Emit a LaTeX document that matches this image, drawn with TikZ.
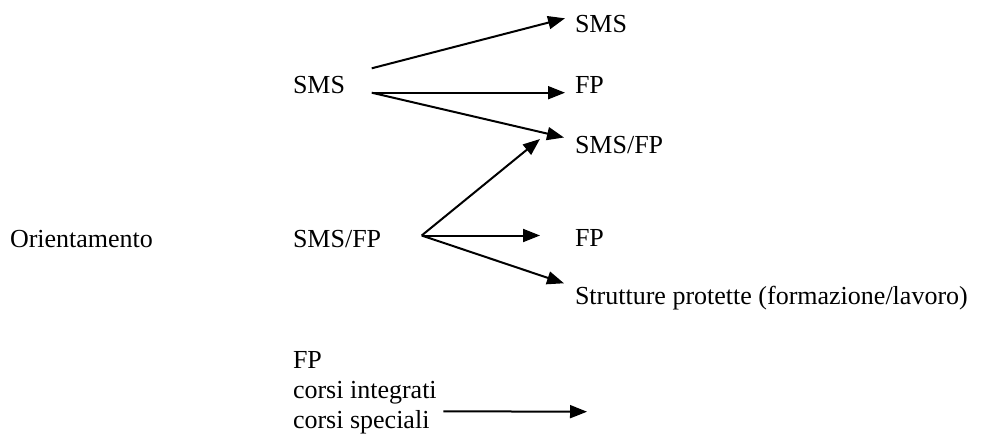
\documentclass[tikz,border=0pt]{standalone}
\usepackage{fontspec}
\setmainfont{Liberation Serif}
\usetikzlibrary{arrows.meta}
\begin{document}
\begin{tikzpicture}[x=1pt,y=-1pt,
  lbl/.style={anchor=base west,inner sep=0pt,outer sep=0pt,
              font=\fontsize{26}{30}\selectfont},
  arr/.style={line width=2pt,-{Triangle[length=17pt,width=13pt]}}]
\useasboundingbox (0,0) rectangle (981,437);

% left column
\node[lbl] (orient) at (10,247) {Orientamento};

% middle column
\node[lbl] (smsL)   at (293,93)  {SMS};
\node[lbl] (smsfpM) at (293,247) {SMS/FP};
\node[lbl] (fpB)    at (293,368) {FP};
\node[lbl] (ci)     at (293,398) {corsi integrati};
\node[lbl] (cs)     at (293,428) {corsi speciali};

% right column
\node[lbl] (smsR)   at (575,32)  {SMS};
\node[lbl] (fpR1)   at (575,93)  {FP};
\node[lbl] (smsfpR) at (575,153) {SMS/FP};
\node[lbl] (fpR2)   at (575,246) {FP};
\node[lbl] (strut)  at (575,304) {Strutture protette (formazione/lavoro)};

\coordinate (ciEnd) at (587,411.7);

% branches from SMS
\draw[arr] ([shift={(26.7,-24.7)}]smsL.base east) -- ([shift={(-10,-13.7)}]smsR.base west);
\draw[arr] ([shift={(26.7,-0.3)}]smsL.base east) -- ([shift={(-10,-0.3)}]fpR1.base west);
\draw[arr] ([shift={(26.7,-0.3)}]smsL.base east) -- ([shift={(-11,-15.5)}]smsfpR.base west);

% branches from SMS/FP
\draw[arr] ([shift={(40.5,-11.5)}]smsfpM.base east) -- ([shift={(-35,-14)}]smsfpR.base west);
\draw[arr] ([shift={(40.5,-11.5)}]smsfpM.base east) -- ([shift={(-35,-10.5)}]fpR2.base west);
\draw[arr] ([shift={(40.5,-11.5)}]smsfpM.base east) -- ([shift={(-11,-20.7)}]strut.base west);

% courses
\draw[arr] ([shift={(6.6,13.3)}]ci.base east) -- (ciEnd);
\end{tikzpicture}
\end{document}
